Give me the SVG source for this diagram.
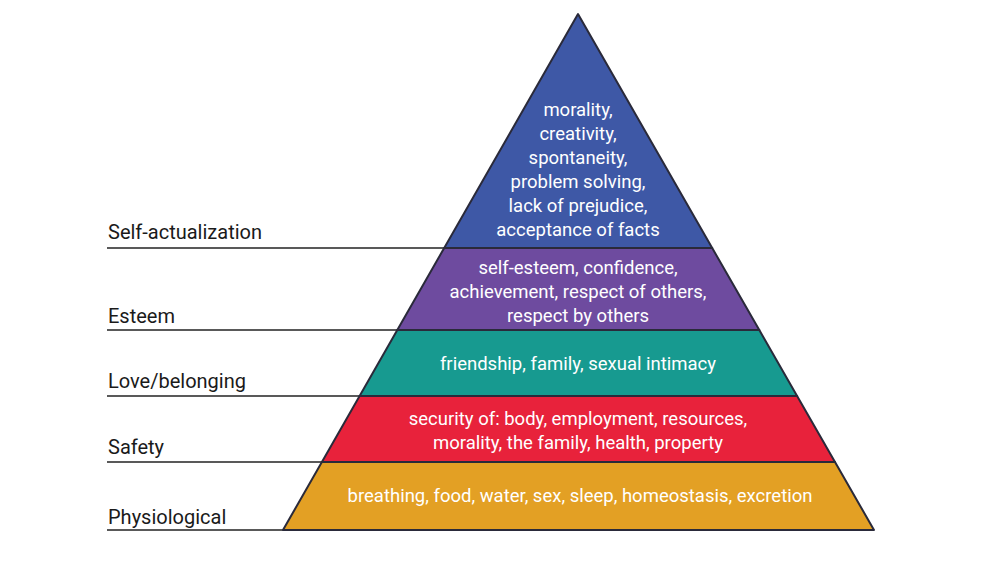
<svg xmlns="http://www.w3.org/2000/svg" width="1000" height="563" viewBox="0 0 1000 563">
<style>
.l{stroke:#222;stroke-width:1.5}
.lb{font-family:Roboto,"Noto Sans",sans-serif;font-size:20px;fill:#1a1a1a}
.t{font-family:Roboto,"Noto Sans",sans-serif;font-size:18.5px;fill:#fff;text-anchor:middle}
.s{stroke:#2a2a3a;stroke-width:2;stroke-linejoin:round}
</style>
<rect width="1000" height="563" fill="#fff"/>
<g id="connectors">
<line class="l" x1="107" y1="248" x2="445" y2="248"/>
<line class="l" x1="107" y1="330" x2="398" y2="330"/>
<line class="l" x1="107" y1="396" x2="360" y2="396"/>
<line class="l" x1="107" y1="462" x2="322" y2="462"/>
<line class="l" x1="107" y1="530" x2="283" y2="530"/>
</g>
<g id="self-actualization">
<polygon class="s" points="578,14 712.2,248 444.2,248" fill="#3e58a6"/>
<text class="t"><tspan x="578" y="116">morality,</tspan><tspan x="578" y="140">creativity,</tspan><tspan x="578" y="164">spontaneity,</tspan><tspan x="578" y="188">problem solving,</tspan><tspan x="578" y="212">lack of prejudice,</tspan><tspan x="578" y="236">acceptance of facts</tspan></text>
<text class="lb" x="108" y="239">Self-actualization</text>
</g>
<g id="esteem">
<polygon class="s" points="444.2,248 712.2,248 759.3,330 397.3,330" fill="#6e4b9f"/>
<text class="t"><tspan x="578" y="274">self-esteem, confidence,</tspan><tspan x="578" y="298">achievement, respect of others,</tspan><tspan x="578" y="322">respect by others</tspan></text>
<text class="lb" x="108" y="323">Esteem</text>
</g>
<g id="love">
<polygon class="s" points="397.3,330 759.3,330 797.1,396 359.6,396" fill="#179a90"/>
<text class="t" x="578" y="370">friendship, family, sexual intimacy</text>
<text class="lb" x="108" y="388">Love/belonging</text>
</g>
<g id="safety">
<polygon class="s" points="359.6,396 797.1,396 835,462 321.9,462" fill="#e8223b"/>
<text class="t"><tspan x="578" y="425">security of: body, employment, resources,</tspan><tspan x="578" y="449">morality, the family, health, property</tspan></text>
<text class="lb" x="108" y="454">Safety</text>
</g>
<g id="physiological">
<polygon class="s" points="321.9,462 835,462 874,530 283,530" fill="#e3a024"/>
<text class="t" x="580" y="502">breathing, food, water, sex, sleep, homeostasis, excretion</text>
<text class="lb" x="108" y="524">Physiological</text>
</g>
</svg>
